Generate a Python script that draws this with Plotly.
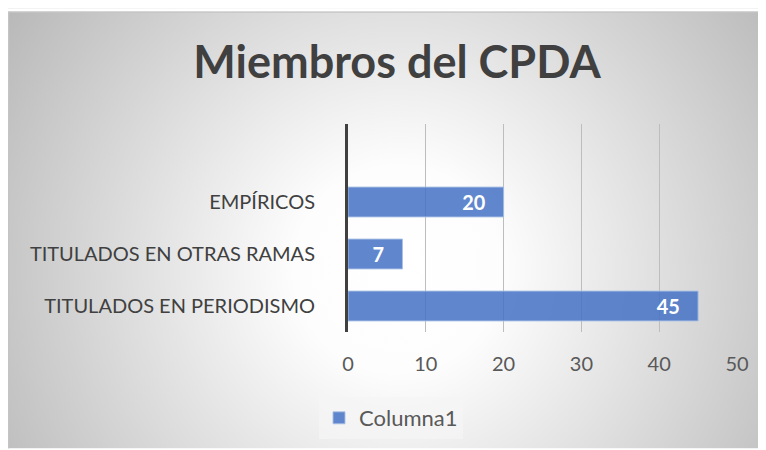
import base64
import plotly.graph_objects as go

categories = ["TITULADOS EN PERIODISMO", "TITULADOS EN OTRAS RAMAS", "EMPÍRICOS"]
values = [45, 7, 20]
series_name = "Columna1"
title_text = "Miembros del CPDA"
x_ticks = [0, 10, 20, 30, 40, 50]
# Excel plot area reserves one empty (unlabelled) category slot at the top
blank_slot = " "

FONT = "Lato"

# the page body has an 8px margin, so the figure is laid out in page pixels minus OFF
OFF = 8
W, H = 766 - OFF, 450 - OFF
L, R, T, B = 348 - OFF, 766 - 737, 124 - OFF, 450 - 333
pw, ph = W - L - R, H - T - B


def px_x(x):  # page pixel -> paper x
    return (x - OFF - L) / pw


def px_y(y):  # page pixel -> paper y
    return (H - B - (y - OFF)) / ph


bw, bh = W, H
svg = f"""<svg xmlns='http://www.w3.org/2000/svg' width='{bw}' height='{bh}' viewBox='0 0 {bw} {bh}'>
<defs><radialGradient id='g' gradientUnits='userSpaceOnUse' cx='390' cy='262' r='470'>
<stop offset='0' stop-color='#ffffff'/><stop offset='0.22' stop-color='#fdfdfd'/>
<stop offset='1' stop-color='#b8b8b8'/></radialGradient></defs>
<rect x='0' y='0' width='{bw}' height='{bh}' fill='url(#g)'/>
<line x1='0.5' y1='3' x2='0.5' y2='{bh}' stroke='#c4c4c4' stroke-width='1.5'/>
<line x1='0' y1='3.5' x2='{bw}' y2='3.5' stroke='#c4c4c4' stroke-width='1.5'/>
<rect x='0' y='0' width='{bw}' height='2.75' fill='#ffffff'/>
</svg>"""
bg_src = "data:image/svg+xml;base64," + base64.b64encode(svg.encode()).decode()

fig = go.Figure()
fig.add_trace(go.Bar(
    y=categories, x=values, orientation="h", name=series_name,
    marker=dict(color="rgba(68,114,196,0.85)", line=dict(color="rgba(170,192,230,0.9)", width=1)),
    width=0.575,
    text=values, texttemplate="<b>%{x}</b>\u00a0\u00a0\u00a0", textposition="inside",
    insidetextanchor="end",
    textfont=dict(family=FONT, size=20, color="white"),
    showlegend=True,
))

fig.update_layout(
    width=W, height=H,
    margin=dict(l=L, r=R, t=T, b=B),
    paper_bgcolor="white", plot_bgcolor="rgba(0,0,0,0)",
    font=dict(family=FONT, color="#595959"),
    title=dict(text=title_text, x=(397 - OFF) / W, xref="container", xanchor="center",
               y=1 - (62 - OFF) / H, yref="container", yanchor="middle",
               font=dict(family=FONT, size=45, color="#404040", weight="bold")),
    images=[dict(source=bg_src, xref="paper", yref="paper",
                 x=px_x(OFF), y=px_y(OFF), sizex=px_x(766) - px_x(OFF), sizey=px_y(OFF) - px_y(450),
                 xanchor="left", yanchor="top", sizing="stretch", layer="below")],
    xaxis=dict(range=[0, 50], tickvals=x_ticks, showgrid=True, gridcolor="#bdbdbd", gridwidth=1.3,
               zeroline=False, showline=False, ticks="", ticklabelstandoff=18,
               tickfont=dict(family=FONT, size=20, color="#595959")),
    yaxis=dict(type="category", categoryorder="array", categoryarray=categories + [blank_slot],
               range=[-0.5, 3.5], showgrid=False, zeroline=False,
               showline=True, linecolor="#404040", linewidth=3, ticks="",
               ticklabelstandoff=26,
               tickfont=dict(family=FONT, size=20, color="#404040")),
    legend=dict(orientation="h", x=px_x(391), y=px_y(418), xanchor="center", yanchor="middle",
                bgcolor="rgba(245,245,245,0.7)", borderwidth=0,
                font=dict(family=FONT, size=22, color="#595959")),
    bargap=0.425,
)

fig.write_html("out.html")
